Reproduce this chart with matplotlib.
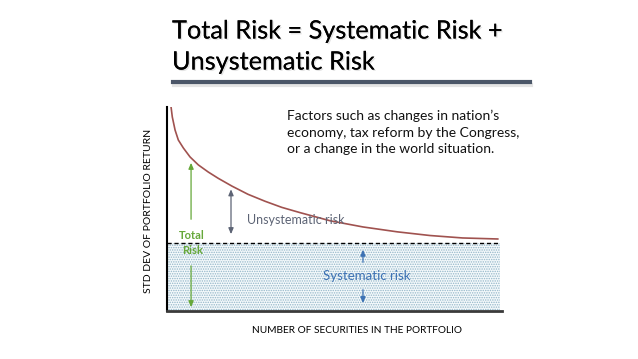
import numpy as np
import matplotlib
matplotlib.use("Agg")
import matplotlib.pyplot as plt
import matplotlib.patheffects as pe

# values (x: number of securities, y: std dev, axis top = 1)
n_securities = [0.48, 0.63, 0.96, 1.35, 1.95, 2.75, 3.74, 4.93, 6.13, 7.76, 9.67,
                11.7, 13.7, 15.9, 19.5, 23.4, 27.5, 31.4, 35.3, 39.5]
std_dev = [1.00, 0.951, 0.887, 0.838, 0.799, 0.755, 0.716, 0.681, 0.650, 0.612, 0.572,
           0.538, 0.508, 0.482, 0.442, 0.412, 0.388, 0.370, 0.358, 0.353]
systematic_level = 0.333
x_end = 39.8

title_lines = ["Total Risk = Systematic Risk +", "Unsystematic Risk"]
note = "Factors such as changes in nation\u2019s\neconomy, tax reform by the Congress,\nor a change in the world situation."
xlabel = "NUMBER OF SECURITIES IN THE PORTFOLIO"
ylabel = "STD DEV OF PORTFOLIO RETURN"

plt.rcParams["font.family"] = ["Lato", "DejaVu Sans"]
plt.rcParams["hatch.linewidth"] = 0.7
plt.rcParams["hatch.color"] = "#93b6c8"

fig = plt.figure(figsize=(6.38, 3.59), dpi=100)
ax = fig.add_axes([0.2618, 0.1337, 0.525, 0.5683])
ax.set_xlim(0, 40)
ax.set_ylim(0, 1)

# systematic (dotted) region + dashed level
ax.fill_between([0, x_end], 0, systematic_level, facecolor="#f4f9fb", hatch=".......",
                edgecolor="#93b6c8", linewidth=0)
ax.plot([0, x_end], [systematic_level] * 2, color="black", ls=(0, (3, 2)), lw=1)

# total risk curve
ax.plot(n_securities, std_dev, color="#a0524f", lw=1.2, solid_joinstyle="round")

# arrows
green = "#66a83a"
gray = "#5d6475"
blue = "#3d72b4"
arr = dict(arrowstyle="-|>,head_length=0.35,head_width=0.15", lw=0.9)
ax.annotate("", xy=(2.87, 0.74), xytext=(2.87, 0.436), arrowprops=dict(arr, color=green))
ax.annotate("", xy=(2.87, 0.005), xytext=(2.87, 0.235), arrowprops=dict(arr, color=green))
ax.annotate("", xy=(7.64, 0.61), xytext=(7.64, 0.363),
            arrowprops=dict(arrowstyle="<|-|>,head_length=0.35,head_width=0.15", lw=0.9, color=gray))
ax.annotate("", xy=(23.4, 0.314), xytext=(23.4, 0.225), arrowprops=dict(arr, color=blue))
ax.annotate("", xy=(23.4, 0.025), xytext=(23.4, 0.118), arrowprops=dict(arr, color=blue))

ax.text(3.0, 0.368, "Total", color=green, fontsize=8, fontweight="bold", ha="center", va="center")
ax.text(3.0, 0.295, "Risk", color=green, fontsize=8, fontweight="bold", ha="center", va="center")
ax.text(9.6, 0.446, "Unsystematic risk", color=gray, fontsize=9, ha="left", va="center")
ax.text(23.9, 0.172, "Systematic risk", color=blue, fontsize=9.5, ha="center", va="center")

ax.text(14.3, 0.985, note, fontsize=10, ha="left", va="top", linespacing=1.44, color="#111111")

ax.set_xlabel(xlabel, fontsize=7.3)
ax.xaxis.set_label_coords(0.567, -0.075)
ax.set_ylabel(ylabel, fontsize=7.5)
ax.yaxis.set_label_coords(-0.042, 0.49)
ax.set_xticks([])
ax.set_yticks([])
for s in ["top", "right"]:
    ax.spines[s].set_visible(False)
ax.spines["left"].set_linewidth(1.5)
ax.spines["bottom"].set_linewidth(2)
ax.spines["bottom"].set_color("#3a3a3a")

# title with soft shadow
shadow = [pe.withSimplePatchShadow(offset=(1, -1), shadow_rgbFace="#b0b0b0", alpha=0.35), pe.Normal()]
fig.text(172 / 638, 1 - 31 / 359, title_lines[0], fontsize=18.2, va="center", ha="left", path_effects=shadow)
fig.text(172 / 638, 1 - 62 / 359, title_lines[1], fontsize=18.2, va="center", ha="left", path_effects=shadow)

# underline bar with shadow
fig.add_artist(plt.Line2D([174 / 638, 531 / 638], [1 - 85 / 359] * 2, color="#e4e4e4", lw=3))
fig.add_artist(plt.Line2D([173 / 638, 530 / 638], [1 - 82 / 359] * 2, color="#4b5668", lw=3))

fig.savefig("out.png", dpi=100)
